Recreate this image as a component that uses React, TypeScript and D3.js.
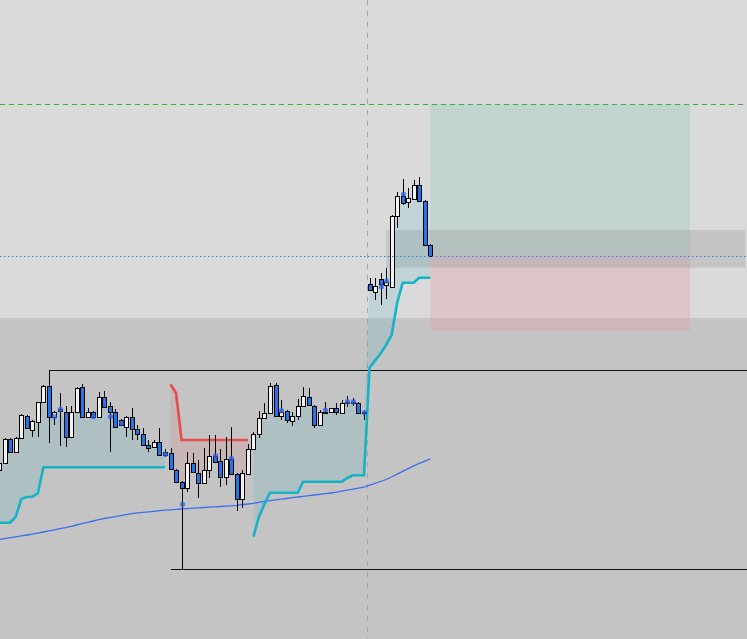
import React, { useEffect, useRef } from "react";
import * as d3 from "d3";

// price units are arbitrary chart points (no axis is shown)
const opens = [230, 237.3, 260.7, 248.3, 261.7, 284.3, 270, 278.3, 297.7, 314, 282.7, 291, 287.7, 263.3, 287.7, 312.7, 282.7, 287.7, 283.3, 302.7, 294, 287.7, 280, 273.3, 282.7, 271, 265.7, 255, 252.7, 258.3, 248, 246.7, 230, 218.3, 211.7, 237.3, 226.7, 216.7, 230, 244, 239, 222.7, 240.7, 225.7, 200.7, 226, 250.7, 265.7, 281.7, 287.3, 315, 284, 289, 279.3, 284, 294, 302.7, 294, 275, 288.3, 287.7, 291.7, 286.7, 298.3, 298.3, 296.7, 288.3, 415.7, 407.7, 420.7, 415, 413.3, 484.3, 504, 498.3, 500.7, 515, 499.3, 455];
const highs = [239, 262, 262, 263, 286, 285, 280, 298, 315, 330, 289, 306.7, 294, 294.3, 313, 316, 292.3, 289, 308.3, 308.7, 298.3, 291, 281, 284, 291.7, 275, 272, 260, 260, 271.7, 250.7, 251.7, 231, 219, 248.3, 246.7, 240, 251.7, 265, 265, 250.7, 263.3, 272.7, 226.5, 230, 256, 268.3, 289.3, 296.7, 316.7, 316.7, 300, 290, 288.3, 301, 313.3, 311.7, 295, 290, 297.7, 292.5, 296.7, 300, 304, 301.7, 298, 289, 421.7, 421.7, 426.7, 432.3, 485, 508.3, 521, 511.7, 520, 522.7, 500, 455.5];
const lows = [228, 236, 247, 248, 261, 271, 263.3, 263, 297, 257.3, 275, 254, 253.3, 262, 287, 282, 282, 282, 282.5, 292, 248.3, 272, 274, 263.3, 260, 260, 254, 248.3, 252, 244, 242.7, 230, 218, 131, 208.3, 227, 202, 216, 221.7, 237, 212.7, 215, 225, 189.3, 191.7, 225, 250, 261.7, 281, 286.5, 283.5, 280, 276.7, 274, 280, 293.5, 294.5, 271.7, 274.5, 285.7, 286.7, 285, 286, 293.3, 294, 286, 280, 409, 400, 395, 400.7, 413, 471.7, 495, 491.7, 500, 499, 454.5, 443.5];
const closes = [237, 260.7, 248.3, 261.7, 285, 271.7, 279, 297.7, 314, 283.3, 288.3, 289, 263.3, 287.7, 311.7, 283.3, 287.7, 283.3, 302.7, 292.7, 287.7, 272.7, 275, 282.7, 271, 265.7, 255, 252.3, 257.7, 245, 245, 230.7, 218.3, 211.7, 236.7, 227.7, 216.7, 230, 244.3, 237.7, 222.7, 240.7, 225.7, 200.7, 226.7, 250.7, 265.7, 281.7, 287.3, 314, 284, 287.7, 280, 284, 294, 304, 295, 275, 287.7, 286.7, 291.7, 287.7, 296.7, 296.7, 296.7, 286.7, 286.7, 410, 414.3, 415.7, 417.7, 484, 504, 497.3, 501.7, 515, 499.3, 455, 444];

// moving average
const maValues = [160.6, 161.4, 162.3, 163.2, 164.1, 165.0, 165.8, 166.9, 168.0, 169.1, 170.2, 171.3, 172.4, 173.7, 175.0, 176.4, 177.7, 179.0, 180.4, 181.5, 182.4, 183.4, 184.4, 185.4, 186.4, 187.1, 187.7, 188.2, 188.7, 189.3, 189.8, 190.2, 190.6, 191.0, 191.4, 191.8, 192.2, 192.5, 192.9, 193.2, 193.5, 193.8, 194.2, 194.7, 195.4, 196.0, 196.7, 197.6, 198.6, 199.4, 200.1, 200.8, 201.5, 202.3, 203.0, 203.7, 204.3, 205.0, 205.6, 206.3, 207.0, 207.8, 208.8, 209.8, 210.8, 211.8, 212.8, 214.8, 216.6, 218.5, 220.5, 223.0, 225.8, 228.6, 231.4, 234.1, 236.6, 238.9, 241.2];

// supertrend: up (support) and down (resistance) legs
const N = null;
const trendUp = [177.3, 177.3, 177.3, 183.3, 201, 203, 203.3, 206.7, 232.7, 232.7, 232.7, 232.7, 232.7, 232.7, 232.7, 232.7, 232.7, 232.7, 232.7, 232.7, 232.7, 232.7, 232.7, 232.7, 232.7, 232.7, 232.7, 232.7, 232.7, 232.7, 232.7, N, N, N, N, N, N, N, N, N, N, N, N, N, N, N, 163.3, 183.3, 196, 207.3, 207.3, 207.3, 207.3, 207.3, 207.3, 218.3, 218.3, 218.3, 218.3, 218.3, 218.3, 218.3, 218.3, 222, 224.7, 224.7, 224.7, 332, 339.4, 346.4, 355, 365, 397, 417.3, 417.3, 417.3, 422.3, 422.3, 422.3];
const trendDown = [N, N, N, N, N, N, N, N, N, N, N, N, N, N, N, N, N, N, N, N, N, N, N, N, N, N, N, N, N, N, N, 315.7, 306.7, 260, 260, 260, 260, 260, 260, 260, 260, 260, 260, 260, 260, 260, N, N, N, N, N, N, N, N, N, N, N, N, N, N, N, N, N, N, N, N, N, N, N, N, N, N, N, N, N, N, N, N, N];

// fractal-style markers [bar, price]
const markerBars = [10, 11, 17, 20, 22, 30, 33, 39, 42, 51, 59, 63, 64, 66, 69, 70, 73];
const markerPrices = [283.3, 290.7, 283.3, 283.3, 277, 245.7, 195.7, 244.3, 241.7, 289.3, 290, 298.3, 298.3, 287.3, 413.3, 419, 506];

// levels and objects
const bidPrice = 444;
const takeProfit = 596;
const stopLoss = 369.3;
const positionStart = 78;
const positionEnd = 125;
const zoneTop = 470;
const zoneBottom = 432.3;
const zoneStart = 70;
const rangeHigh = 330;
const rangeHighStart = 9;
const rangeLow = 131;
const rangeLowStart = 31;
const lowerAreaTop = 382;
const sessionBreak = 66.5;
const lastSlot = 135;

const W = 747;
const H = 639;

const App = () => {
  const ref = useRef<SVGSVGElement>(null);

  useEffect(() => {
    const svg = d3.select(ref.current);
    svg.selectAll("*").remove();

    const x = d3.scaleLinear().domain([0, lastSlot]).range([-0.8, -0.8 + lastSlot * 5.527]);
    const y = d3.scaleLinear().domain([61, 700]).range([H, 0]);
    const idx = d3.range(opens.length);
    const mid = (i) => (opens[i] + closes[i]) / 2;

    svg.append("rect").attr("width", W).attr("height", H).attr("fill", "#dadada");
    svg.append("rect")
      .attr("y", y(lowerAreaTop))
      .attr("width", W)
      .attr("height", H - y(lowerAreaTop))
      .attr("fill", "#c4c4c4");

    // position boxes
    svg.append("rect")
      .attr("x", x(positionStart)).attr("y", y(takeProfit))
      .attr("width", x(positionEnd) - x(positionStart))
      .attr("height", y(bidPrice) - y(takeProfit))
      .attr("fill", "rgba(150,200,190,0.35)");
    svg.append("rect")
      .attr("x", x(positionStart)).attr("y", y(bidPrice))
      .attr("width", x(positionEnd) - x(positionStart))
      .attr("height", y(stopLoss) - y(bidPrice))
      .attr("fill", "rgba(230,150,160,0.3)");
    svg.append("rect")
      .attr("x", x(zoneStart)).attr("y", y(zoneTop))
      .attr("width", x(lastSlot) - x(zoneStart))
      .attr("height", y(zoneBottom) - y(zoneTop))
      .attr("fill", "rgba(140,140,140,0.28)");

    // range lines
    svg.append("line")
      .attr("x1", Math.round(x(rangeHighStart)) + 0.5).attr("x2", W)
      .attr("y1", Math.round(y(rangeHigh)) + 0.5).attr("y2", Math.round(y(rangeHigh)) + 0.5)
      .attr("stroke", "#111").attr("stroke-width", 1);
    svg.append("line")
      .attr("x1", Math.round(x(rangeLowStart))).attr("x2", W)
      .attr("y1", Math.round(y(rangeLow)) + 0.5).attr("y2", Math.round(y(rangeLow)) + 0.5)
      .attr("stroke", "#111").attr("stroke-width", 1);

    // session separator
    svg.append("line")
      .attr("x1", Math.round(x(sessionBreak)) + 0.5).attr("x2", Math.round(x(sessionBreak)) + 0.5)
      .attr("y1", 0).attr("y2", H)
      .attr("stroke", "#a6a6a6").attr("stroke-dasharray", "5 6");

    // supertrend fills
    const fillArea = (vals) => d3.area()
      .defined((i) => vals[i] != null)
      .x((i) => x(i))
      .y0((i) => y(vals[i]))
      .y1((i) => y(mid(i)));

    svg.append("path").datum(idx)
      .attr("d", fillArea(trendUp))
      .attr("fill", "rgba(40,170,190,0.13)");
    svg.append("path").datum(idx)
      .attr("d", fillArea(trendDown))
      .attr("fill", "rgba(230,80,80,0.12)");

    // moving average
    svg.append("path").datum(idx)
      .attr("d", d3.line().x((i) => x(i)).y((i) => y(maValues[i])))
      .attr("fill", "none").attr("stroke", "#3b6ef0").attr("stroke-width", 1.3);

    const trendLine = (vals) => d3.line()
      .defined((i) => vals[i] != null)
      .x((i) => x(i))
      .y((i) => y(vals[i]));

    svg.append("path").datum(idx)
      .attr("d", trendLine(trendUp))
      .attr("fill", "none").attr("stroke", "#16b2c6").attr("stroke-width", 2.6);
    svg.append("path").datum(idx)
      .attr("d", trendLine(trendDown))
      .attr("fill", "none").attr("stroke", "#e64b50").attr("stroke-width", 2.6);

    // candles
    const candles = svg.append("g");
    idx.forEach((i) => {
      const cx = Math.round(x(i));
      const top = Math.round(y(Math.max(opens[i], closes[i])));
      const bot = Math.round(y(Math.min(opens[i], closes[i])));
      candles.append("line")
        .attr("x1", cx + 0.5).attr("x2", cx + 0.5)
        .attr("y1", Math.round(y(highs[i]))).attr("y2", Math.round(y(lows[i])))
        .attr("stroke", "#000").attr("stroke-width", 1);
      candles.append("rect")
        .attr("x", cx - 1.5).attr("y", top + 0.5)
        .attr("width", 4).attr("height", Math.max(1, bot - top))
        .attr("fill", closes[i] >= opens[i] ? "#f2f2f2" : "#2373ea")
        .attr("stroke", "#000").attr("stroke-width", 1);
    });

    // markers
    svg.append("g").selectAll("circle")
      .data(markerBars)
      .join("circle")
      .attr("cx", (d) => Math.round(x(d)) + 0.5)
      .attr("cy", (d, k) => y(markerPrices[k]))
      .attr("r", 2.6)
      .attr("fill", "#2f63e6").attr("opacity", 0.75);

    // bid and take profit lines
    svg.append("line")
      .attr("x1", 0).attr("x2", W)
      .attr("y1", Math.round(y(bidPrice)) + 0.5).attr("y2", Math.round(y(bidPrice)) + 0.5)
      .attr("stroke", "#2f7ff0").attr("stroke-dasharray", "1.5 2.5");
    svg.append("line")
      .attr("x1", 0).attr("x2", W)
      .attr("y1", Math.round(y(takeProfit)) + 0.5).attr("y2", Math.round(y(takeProfit)) + 0.5)
      .attr("stroke", "#2fb52f").attr("stroke-dasharray", "5 4");
  }, []);

  return (
    <svg
      ref={ref}
      width={W}
      height={H}
      style={{ position: "fixed", left: 0, top: 0, display: "block" }}
    />
  );
};

export default App;
